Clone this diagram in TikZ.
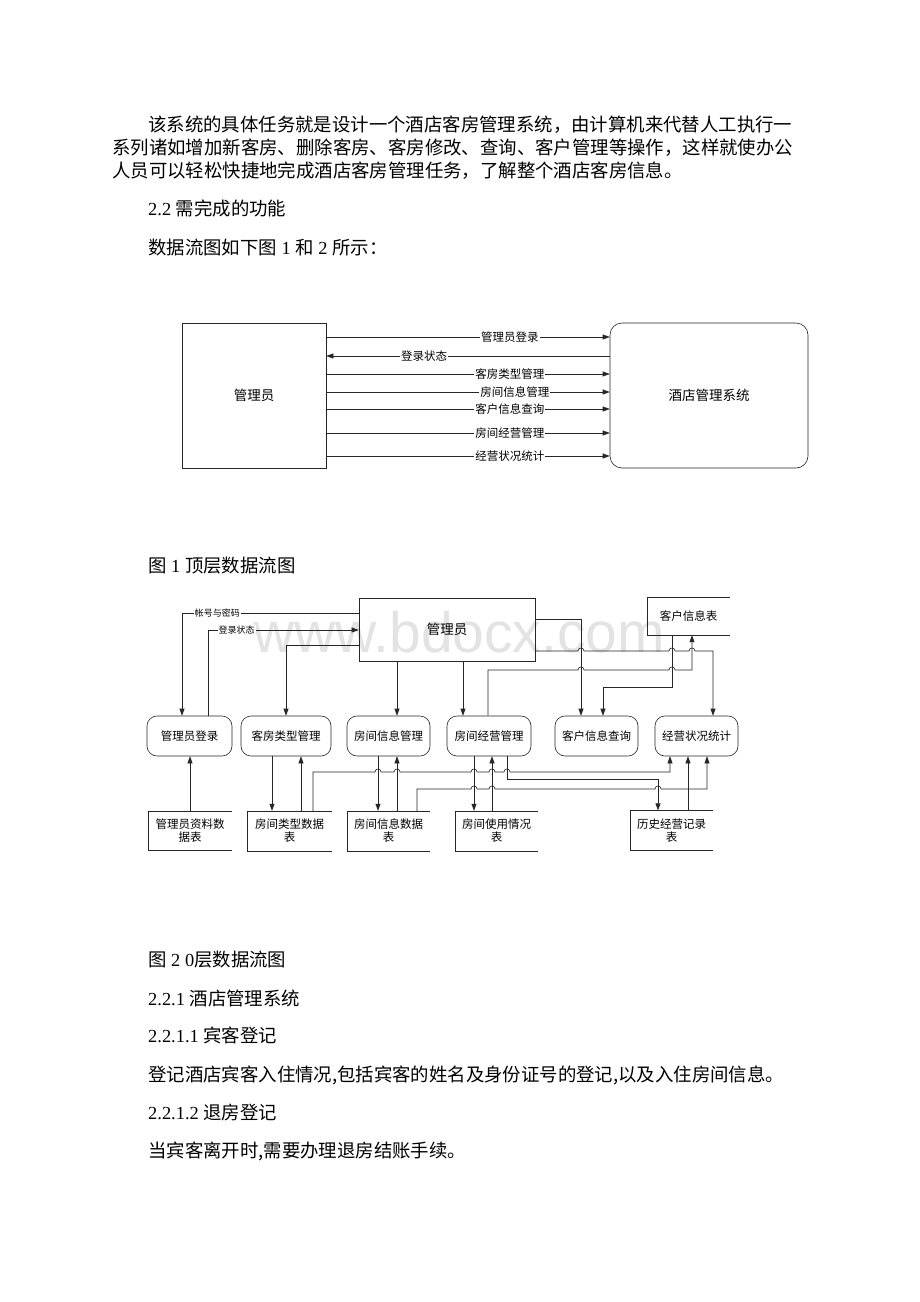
\documentclass[tikz,border=0pt]{standalone}
\usepackage{fontspec}
\setmainfont{Liberation Serif}
\newfontfamily\cjk{Noto Sans CJK SC}
\newfontfamily\wmfont{Liberation Sans}
\usetikzlibrary{arrows.meta}
\newcommand\zh[1]{{\cjk #1}}
\newcommand\bodyfont{\fontsize{18.4}{22}\selectfont}
\tikzset{
  ln/.style={line width=0.6pt, draw=black!85},
  arr/.style={ln, -{Triangle[length=7pt,width=5pt]}},
  sqbox/.style={draw=black!85, line width=0.6pt, inner sep=0pt},
  rbox/.style={draw=black!85, line width=0.6pt, rounded corners=10pt, inner sep=0pt},
  txt/.style={anchor=base west, inner sep=0pt, font=\bodyfont},
  lab1/.style={fill=white, inner sep=1pt, font=\cjk\fontsize{11.5}{12}\selectfont},
  lab2/.style={fill=white, inner sep=1pt, font=\cjk\fontsize{9}{10}\selectfont},
  big/.style={font=\cjk\fontsize{13.5}{15}\selectfont},
  small/.style={font=\cjk\fontsize{11.5}{13}\selectfont, align=center},
  hopat/.style args={#1/#2}{insert path={-- ({#1-3},#2) .. controls ({#1-3},{#2-4}) and ({#1+3},{#2-4}) .. ({#1+3},#2)}}
}
\begin{document}
\begin{tikzpicture}[x=1pt,y=-1pt]
\useasboundingbox (0,0) rectangle (920,1302);
\fill[white] (0,0) rectangle (920,1302);

% ---------- body text ----------
\node[txt] (t1) at (148,131) {\zh{该系统的具体任务就是设计一个酒店客房管理系统，由计算机来代替人工执行一}};
\node[txt] (t2) at (112,154) {\zh{系列诸如增加新客房、删除客房、客房修改、查询、客户管理等操作，这样就使办公}};
\node[txt] (t3) at (112,177) {\zh{人员可以轻松快捷地完成酒店客房管理任务，了解整个酒店客房信息。}};
\node[txt] (t4) at (148,215) {2.2 \zh{需完成的功能}};
\node[txt] (t5) at (148,254) {\zh{数据流图如下图} 1 \zh{和} 2 \zh{所示：}};

% ---------- Figure 1 ----------
\node[sqbox, big, minimum width=144pt, minimum height=145pt] (adm1) at (254,395.5) {管理员};
\node[rbox, big, rounded corners=12pt, minimum width=198pt, minimum height=145pt] (sys1) at (709,395.5) {酒店管理系统};
\draw[arr] (adm1.east |- 0,337) -- node[lab1,pos=0.648]{管理员登录} (sys1.west |- 0,337);
\draw[arr] (sys1.west |- 0,356) -- node[lab1,pos=0.655]{登录状态} (adm1.east |- 0,356);
\draw[arr] (adm1.east |- 0,374) -- node[lab1,pos=0.648]{客房类型管理} (sys1.west |- 0,374);
\draw[arr] (adm1.east |- 0,392) -- node[lab1,pos=0.665]{房间信息管理} (sys1.west |- 0,392);
\draw[arr] (adm1.east |- 0,409) -- node[lab1,pos=0.648]{客户信息查询} (sys1.west |- 0,409);
\draw[arr] (adm1.east |- 0,433) -- node[lab1,pos=0.648]{房间经营管理} (sys1.west |- 0,433);
\draw[arr] (adm1.east |- 0,456) -- node[lab1,pos=0.648]{经营状况统计} (sys1.west |- 0,456);

\node[txt] (cap1) at (148,572) {\zh{图} 1 \zh{顶层数据流图}};

% ---------- watermark ----------
\node[anchor=base west, inner sep=0pt, text=black!11, font=\wmfont\fontsize{57}{60}\selectfont] (wm) at (253,652) {www.bdocx.com};

% ---------- Figure 2 ----------
\node[sqbox, big, minimum width=176pt, minimum height=63pt] (mgr2) at (447,629.5) {管理员};
% customer info store (open right)
\node[small, minimum width=83pt, minimum height=38pt] (c1) at (688.5,616) {客户信息表};
\draw[ln] (c1.north east) -- (c1.north west) -- (c1.south west) -- (c1.south east);

% processes
\node[rbox, small, minimum width=85pt, minimum height=40pt] (p1) at (189.5,736) {管理员登录};
\node[rbox, small, minimum width=90pt, minimum height=40pt] (p2) at (286,736) {客房类型管理};
\node[rbox, small, minimum width=83pt, minimum height=40pt] (p3) at (388.5,736) {房间信息管理};
\node[rbox, small, minimum width=84pt, minimum height=40pt] (p4) at (489,736) {房间经营管理};
\node[rbox, small, minimum width=83pt, minimum height=40pt] (p5) at (596.5,736) {客户信息查询};
\node[rbox, small, minimum width=83pt, minimum height=40pt] (p6) at (696.5,736) {经营状况统计};

% data stores (open right)
\node[small, minimum width=84pt, minimum height=39pt] (d1) at (190,831) {管理员资料数\\据表};
\node[small, minimum width=85pt, minimum height=40pt] (d2) at (289.5,831) {房间类型数据\\表};
\node[small, minimum width=83pt, minimum height=40pt] (d3) at (388.5,831) {房间信息数据\\表};
\node[small, minimum width=83pt, minimum height=40pt] (d4) at (496.5,831) {房间使用情况\\表};
\node[small, minimum width=83pt, minimum height=40pt] (d5) at (671.5,830.5) {历史经营记录\\表};
\foreach \d in {d1,d2,d3,d4,d5}
  \draw[ln] (\d.north east) -- (\d.north west) -- (\d.south west) -- (\d.south east);

% upper connectors
\draw[arr] (mgr2.west |- 0,613) -- node[lab2,pos=0.8]{帐号与密码} (182,613) -- (p1.north -| 182,0);
\draw[arr] (p1.north -| 208,0) -- (208,630) -- node[lab2,pos=0.19]{登录状态} (mgr2.west |- 0,630);
\draw[arr] (mgr2.west |- 0,645) -- (286,645) -- (p2.north);
\draw[arr] (mgr2.south -| 397,0) -- (p3.north -| 397,0);
\draw[arr] (mgr2.south -| 463,0) -- (p4.north -| 463,0);
\draw[arr] (mgr2.east |- 0,619) -- (581,619) -- (p5.north -| 581,0);
\draw[arr] (mgr2.east |- 0,651) [hopat=581/651] [hopat=672/651] [hopat=692/651] -- (713,651) -- (p6.north -| 713,0);
\draw[arr] (p4.north -| 488,0) -- (488,670) [hopat=581/670] [hopat=672/670] -- (692,670) -- (c1.south -| 692,0);
\draw[arr] (c1.south -| 672,0) -- (672,687) -- (603,687) -- (p5.north -| 603,0);

% lower connectors
\draw[arr] (d1.north) -- (p1.south -| d1.north);
\draw[arr] (p2.south -| 272,0) -- (d2.north -| 272,0);
\draw[arr] (d2.north -| 301,0) -- (p2.south -| 301,0);
\draw[arr] (d2.north -| 313,0) -- (313,772) [hopat=378/772] [hopat=397/772] [hopat=474/772] [hopat=492/772] [hopat=507/772] -- (670,772) -- (p6.south -| 670,0);
\draw[arr] (p3.south -| 378,0) -- (d3.north -| 378,0);
\draw[arr] (d3.north -| 397,0) -- (p3.south -| 397,0);
\draw[arr] (d3.north -| 417,0) -- (417,789) [hopat=474/789] [hopat=492/789] [hopat=658/789] -- (707,789) -- (p6.south -| 707,0);
\draw[arr] (p4.south -| 474,0) -- (d4.north -| 474,0);
\draw[arr] (d4.north -| 492,0) -- (p4.south -| 492,0);
\draw[arr] (p4.south -| 507,0) -- (507,779) -- (658,779) -- (d5.north -| 658,0);
\draw[arr] (d5.north -| 688,0) -- (p6.south -| 688,0);

% ---------- lower text ----------
\node[txt] (cap2) at (148,966) {\zh{图} 2 0\zh{层数据流图}};
\node[txt] (s1) at (148,1005) {2.2.1 \zh{酒店管理系统}};
\node[txt] (s2) at (148,1042) {2.2.1.1 \zh{宾客登记}};
\node[txt] (s3) at (148,1081) {\zh{登记酒店宾客入住情况,包括宾客的姓名及身份证号的登记,以及入住房间信息。}};
\node[txt] (s4) at (148,1119) {2.2.1.2 \zh{退房登记}};
\node[txt] (s5) at (148,1157) {\zh{当宾客离开时,需要办理退房结账手续。}};
\end{tikzpicture}
\end{document}
